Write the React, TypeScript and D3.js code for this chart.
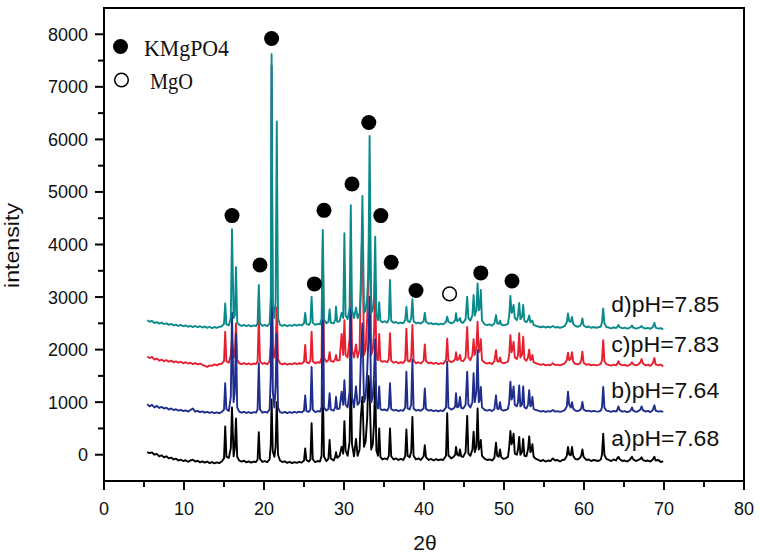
import React from "react";
import * as d3 from "d3";

type Pt = [number, number];

const seriesA: Pt[] = [[5.4,50],[5.7,30],[6.0,45],[6.3,0],[6.6,15],[6.9,-30],[7.2,-10],[7.5,-50],[7.8,-30],[8.1,-70],[8.4,-55],[8.7,-90],[9.0,-75],[9.3,-110],[9.6,-95],[9.9,-120],[10.2,-105],[10.5,-135],[10.8,-110],[11.1,-95],[11.4,-130],[11.7,-115],[12.0,-145],[12.3,-125],[12.6,-150],[12.9,-130],[13.2,-160],[13.5,-140],[13.8,-165],[14.1,-145],[14.4,-160],[14.7,-130],
[15.0,-70],[15.15,540],[15.3,-40],[15.6,-60],[15.85,120],[16.0,900],[16.2,-30],[16.35,120],[16.5,690],[16.65,-40],[16.9,-110],[17.2,-130],[17.5,-115],[17.8,-145],[18.1,-125],[18.4,-150],[18.7,-130],[19.0,-140],[19.2,-90],[19.35,430],[19.5,-80],[19.8,-135],[20.1,-120],[20.4,-140],[20.7,-90],[20.85,200],[20.95,1050],[21.1,60],[21.3,-40],[21.45,150],[21.6,1000],[21.75,0],[22.0,-110],[22.3,-140],[22.6,-125],[22.9,-155],[23.2,-135],[23.5,-160],[23.8,-140],[24.1,-155],[24.4,-135],[24.7,-150],[25.0,-110],[25.15,120],[25.3,-100],[25.6,-130],[25.8,-90],[25.95,600],[26.1,-90],[26.4,-140],[26.7,-120],[27.0,-130],[27.2,-20],[27.35,1300],[27.5,-40],[27.8,-120],[28.05,-80],[28.2,280],[28.35,-70],[28.7,-110],[28.9,-40],[29.0,50],[29.15,-60],[29.45,-20],[29.7,150],[29.9,20],[30.05,640],[30.2,80],[30.45,-20],[30.7,250],[30.85,1600],[31.0,200],[31.25,-30],[31.5,300],[31.7,-20],[31.95,100],[32.1,700],[32.3,1100],[32.5,150],[32.7,250],[32.9,700],[33.05,1500],[33.2,1200],[33.4,100],[33.6,200],[33.75,600],[33.9,1400],[34.05,80],[34.25,-20],[34.4,500],[34.55,-40],[34.8,-90],[35.1,-70],[35.4,-90],[35.6,-20],[35.75,500],[35.9,-30],[36.2,-90],[36.5,-70],[36.8,-100],[37.1,-80],[37.4,-100],[37.65,-30],[37.8,480],[37.95,-20],[38.2,-50],[38.4,50],[38.55,720],[38.7,-20],[39.0,-90],[39.3,-70],[39.6,-100],[39.95,-30],[40.1,180],[40.25,-50],[40.6,-100],[40.9,-80],[41.2,-110],[41.5,-85],[41.8,-105],[42.1,-90],[42.4,-100],[42.75,-20],[42.9,790],[43.05,-10],[43.4,-70],[43.7,-40],[43.9,0],[44.0,150],[44.15,0],[44.35,-20],[44.5,100],[44.65,-30],[44.9,-40],[45.2,50],[45.4,740],[45.55,20],[45.8,-20],[46.05,100],[46.2,440],[46.35,50],[46.55,150],[46.7,880],[46.85,100],[47.0,150],[47.1,280],[47.25,-20],[47.6,-80],[47.9,-100],[48.2,-90],[48.5,-110],[48.8,-60],[49.0,230],[49.15,-20],[49.35,-40],[49.5,100],[49.65,-40],[49.9,-80],[50.2,-70],[50.5,-40],[50.65,150],[50.8,450],[50.95,200],[51.05,250],[51.2,400],[51.35,20],[51.6,0],[51.75,100],[51.9,340],[52.05,0],[52.25,50],[52.4,300],[52.55,-20],[52.8,-30],[53.0,100],[53.15,350],[53.3,50],[53.45,80],[53.55,200],[53.7,-40],[54.0,-80],[54.3,-100],[54.6,-120],[54.9,-100],[55.2,-130],[55.5,-110],[55.8,-120],[56.1,-70],[56.4,-110],[56.7,-100],[57.0,-130],[57.3,-100],[57.6,-90],[57.85,-20],[58.0,150],[58.15,0],[58.35,-10],[58.5,150],[58.65,-20],[58.9,-80],[59.2,-90],[59.5,-60],[59.65,-20],[59.8,100],[59.95,-40],[60.3,-100],[60.6,-90],[60.9,-120],[61.2,-100],[61.5,-110],[61.8,-120],[62.1,-90],[62.25,0],[62.4,400],[62.55,0],[62.8,-80],[63.1,-100],[63.4,-120],[63.7,-90],[64.0,-110],[64.15,-70],[64.3,-40],[64.45,-80],[64.8,-120],[65.1,-110],[65.4,-130],[65.7,-100],[65.85,-70],[66.0,-40],[66.15,-90],[66.5,-120],[66.8,-100],[67.05,-80],[67.2,-50],[67.35,-100],[67.7,-120],[68.0,-110],[68.3,-130],[68.6,-90],[68.8,-40],[68.95,-110],[69.3,-100],[69.6,-140],[69.9,-120]];

const seriesB: Pt[] = [[5.4,960],[5.7,920],[6.0,950],[6.3,900],[6.6,930],[6.9,890],[7.2,910],[7.5,880],[7.8,895],[8.1,860],[8.4,880],[8.7,850],[9.0,865],[9.3,840],[9.6,855],[9.9,830],[10.2,845],[10.5,820],[10.8,850],[11.1,880],[11.4,820],[11.7,835],[12.0,810],[12.3,825],[12.6,800],[12.9,815],[13.2,795],[13.5,810],[13.8,790],[14.1,805],[14.4,790],[14.7,810],
[15.0,860],[15.15,1360],[15.3,870],[15.6,830],[15.85,1100],[16.0,2700],[16.2,1000],[16.35,1200],[16.5,2300],[16.65,900],[16.9,820],[17.2,800],[17.5,815],[17.8,795],[18.1,810],[18.4,790],[18.7,810],[19.0,800],[19.2,860],[19.35,1740],[19.5,860],[19.8,800],[20.1,815],[20.4,800],[20.7,860],[20.85,1500],[20.95,7400],[21.1,1200],[21.3,900],[21.45,1300],[21.6,2300],[21.75,900],[22.0,810],[22.3,795],[22.6,815],[22.9,790],[23.2,810],[23.5,795],[23.8,815],[24.1,800],[24.4,820],[24.7,805],[25.0,840],[25.15,1130],[25.3,830],[25.6,815],[25.8,860],[25.95,1670],[26.1,860],[26.4,810],[26.7,830],[27.0,820],[27.2,900],[27.35,3500],[27.5,900],[27.8,840],[28.05,870],[28.2,1170],[28.35,860],[28.7,840],[28.9,900],[29.0,1100],[29.15,870],[29.45,880],[29.7,1200],[29.9,950],[30.05,1420],[30.2,950],[30.45,900],[30.7,1200],[30.85,2800],[31.0,1100],[31.25,900],[31.5,1300],[31.7,950],[31.95,1000],[32.1,1800],[32.3,2500],[32.5,1000],[32.7,1100],[32.9,1600],[33.05,2200],[33.2,3000],[33.4,1000],[33.6,1100],[33.75,1500],[33.9,2200],[34.05,950],[34.25,880],[34.4,1300],[34.55,870],[34.8,850],[35.1,860],[35.4,840],[35.6,900],[35.75,1360],[35.9,870],[36.2,840],[36.5,855],[36.8,830],[37.1,850],[37.4,835],[37.65,900],[37.8,1580],[37.95,880],[38.2,860],[38.4,950],[38.55,1810],[38.7,880],[39.0,840],[39.3,855],[39.6,835],[39.95,880],[40.1,1260],[40.25,870],[40.6,840],[40.9,850],[41.2,830],[41.5,845],[41.8,825],[42.1,845],[42.4,830],[42.75,900],[42.9,1770],[43.05,900],[43.4,860],[43.7,880],[43.9,920],[44.0,1170],[44.15,900],[44.35,920],[44.5,1100],[44.65,890],[44.9,880],[45.2,950],[45.4,1580],[45.55,950],[45.8,900],[46.05,1000],[46.2,1550],[46.35,1000],[46.55,1200],[46.7,1990],[46.85,1000],[47.0,1050],[47.1,1290],[47.25,900],[47.6,850],[47.9,840],[48.2,855],[48.5,830],[48.8,870],[49.0,1130],[49.15,880],[49.35,870],[49.5,1000],[49.65,860],[49.9,840],[50.2,850],[50.5,870],[50.65,1000],[50.8,1390],[50.95,1050],[51.05,1100],[51.2,1300],[51.35,950],[51.6,920],[51.75,1000],[51.9,1320],[52.05,920],[52.25,950],[52.4,1300],[52.55,900],[52.8,880],[53.0,950],[53.15,1230],[53.3,920],[53.45,950],[53.55,1100],[53.7,870],[54.0,850],[54.3,840],[54.6,820],[54.9,835],[55.2,815],[55.5,830],[55.8,820],[56.1,850],[56.4,820],[56.7,830],[57.0,815],[57.3,830],[57.6,850],[57.85,920],[58.0,1200],[58.15,950],[58.35,900],[58.5,1000],[58.65,880],[58.9,840],[59.2,830],[59.5,850],[59.65,880],[59.8,1005],[59.95,860],[60.3,830],[60.6,840],[60.9,820],[61.2,835],[61.5,825],[61.8,820],[62.1,840],[62.25,900],[62.4,1290],[62.55,900],[62.8,840],[63.1,830],[63.4,815],[63.7,835],[64.0,820],[64.15,850],[64.3,920],[64.45,850],[64.8,820],[65.1,830],[65.4,810],[65.7,825],[65.85,850],[66.0,900],[66.15,840],[66.5,815],[66.8,830],[67.05,860],[67.2,920],[67.35,850],[67.7,820],[68.0,835],[68.3,810],[68.6,850],[68.8,940],[68.95,840],[69.3,820],[69.6,830],[69.9,815]];

const seriesC: Pt[] = [[5.4,1870],[5.7,1840],[6.0,1860],[6.3,1810],[6.6,1830],[6.9,1790],[7.2,1810],[7.5,1780],[7.8,1800],[8.1,1770],[8.4,1790],[8.7,1760],[9.0,1775],[9.3,1750],[9.6,1770],[9.9,1740],[10.2,1760],[10.5,1735],[10.8,1750],[11.1,1725],[11.4,1745],[11.7,1720],[12.0,1735],[12.3,1710],[12.6,1690],[12.9,1670],[13.2,1700],[13.5,1690],[13.8,1720],[14.1,1700],[14.4,1725],[14.7,1730],
[15.0,1780],[15.15,2340],[15.3,1780],[15.6,1750],[15.85,1900],[16.0,2200],[16.2,1850],[16.35,1900],[16.5,2500],[16.65,1800],[16.9,1740],[17.2,1725],[17.5,1745],[17.8,1720],[18.1,1740],[18.4,1715],[18.7,1735],[19.0,1725],[19.2,1780],[19.35,2600],[19.5,1780],[19.8,1730],[20.1,1745],[20.4,1720],[20.7,1780],[20.85,2100],[20.95,3000],[21.1,2000],[21.3,1850],[21.45,2100],[21.6,2800],[21.75,1820],[22.0,1740],[22.3,1720],[22.6,1740],[22.9,1715],[23.2,1735],[23.5,1720],[23.8,1745],[24.1,1725],[24.4,1740],[24.7,1730],[25.0,1770],[25.15,2090],[25.3,1760],[25.6,1740],[25.8,1790],[25.95,2340],[26.1,1780],[26.4,1740],[26.7,1760],[27.0,1750],[27.2,1850],[27.35,4050],[27.5,1850],[27.8,1770],[28.05,1800],[28.2,1950],[28.35,1780],[28.7,1770],[28.9,1820],[29.0,1900],[29.15,1790],[29.45,1800],[29.7,2300],[29.9,1900],[30.05,2560],[30.2,1900],[30.45,1850],[30.7,2200],[30.85,3500],[31.0,2000],[31.25,1850],[31.5,2100],[31.7,1850],[31.95,2000],[32.1,3300],[32.3,4370],[32.5,1900],[32.7,2000],[32.9,2600],[33.05,3400],[33.2,4790],[33.4,1900],[33.6,2000],[33.75,2300],[33.9,3200],[34.05,1850],[34.25,1800],[34.4,2300],[34.55,1790],[34.8,1770],[35.1,1780],[35.4,1760],[35.6,1820],[35.75,2310],[35.9,1790],[36.2,1750],[36.5,1770],[36.8,1740],[37.1,1760],[37.4,1745],[37.65,1800],[37.8,2400],[37.95,1790],[38.2,1770],[38.4,1850],[38.55,2470],[38.7,1790],[39.0,1740],[39.3,1760],[39.6,1735],[39.95,1790],[40.1,2100],[40.25,1780],[40.6,1740],[40.9,1755],[41.2,1730],[41.5,1750],[41.8,1725],[42.1,1745],[42.4,1730],[42.75,1800],[42.9,2210],[43.05,1800],[43.4,1760],[43.7,1780],[43.9,1820],[44.0,1950],[44.15,1800],[44.35,1820],[44.5,1900],[44.65,1790],[44.9,1780],[45.2,1850],[45.4,2430],[45.55,1850],[45.8,1800],[46.05,1900],[46.2,2200],[46.35,1900],[46.55,2050],[46.7,2530],[46.85,1950],[47.0,2000],[47.1,2200],[47.25,1800],[47.6,1750],[47.9,1735],[48.2,1750],[48.5,1725],[48.8,1780],[49.0,1990],[49.15,1780],[49.35,1770],[49.5,1850],[49.65,1760],[49.9,1740],[50.2,1750],[50.5,1770],[50.65,1900],[50.8,2276],[50.95,1950],[51.05,2000],[51.2,2150],[51.35,1850],[51.6,1820],[51.75,1900],[51.9,2310],[52.05,1850],[52.25,1900],[52.4,2245],[52.55,1820],[52.8,1790],[53.0,1850],[53.15,2000],[53.3,1800],[53.45,1820],[53.55,1900],[53.7,1760],[54.0,1740],[54.3,1725],[54.6,1710],[54.9,1725],[55.2,1700],[55.5,1715],[55.8,1700],[56.1,1740],[56.4,1705],[56.7,1715],[57.0,1700],[57.3,1720],[57.6,1740],[57.85,1800],[58.0,1940],[58.15,1800],[58.35,1820],[58.5,1950],[58.65,1770],[58.9,1730],[59.2,1720],[59.5,1740],[59.65,1790],[59.8,1960],[59.95,1750],[60.3,1710],[60.6,1725],[60.9,1700],[61.2,1715],[61.5,1700],[61.8,1710],[62.1,1730],[62.25,1800],[62.4,2180],[62.55,1780],[62.8,1720],[63.1,1710],[63.4,1695],[63.7,1715],[64.0,1700],[64.15,1730],[64.3,1780],[64.45,1730],[64.8,1700],[65.1,1710],[65.4,1690],[65.7,1705],[65.85,1730],[66.0,1760],[66.15,1720],[66.5,1700],[66.8,1720],[67.05,1760],[67.2,1820],[67.35,1740],[67.7,1700],[68.0,1715],[68.3,1690],[68.6,1740],[68.8,1840],[68.95,1720],[69.3,1700],[69.6,1715],[69.9,1680]];

const seriesD: Pt[] = [[5.4,2560],[5.7,2530],[6.0,2545],[6.3,2505],[6.6,2525],[6.9,2495],[7.2,2515],[7.5,2485],[7.8,2500],[8.1,2470],[8.4,2490],[8.7,2460],[9.0,2475],[9.3,2450],[9.6,2470],[9.9,2445],[10.2,2460],[10.5,2435],[10.8,2450],[11.1,2430],[11.4,2450],[11.7,2425],[12.0,2445],[12.3,2420],[12.6,2440],[12.9,2415],[13.2,2435],[13.5,2410],[13.8,2430],[14.1,2415],[14.4,2435],[14.7,2440],
[15.0,2490],[15.15,2880],[15.3,2480],[15.6,2460],[15.85,2600],[16.0,4290],[16.2,2600],[16.35,2650],[16.5,3570],[16.65,2520],[16.9,2470],[17.2,2450],[17.5,2470],[17.8,2445],[18.1,2465],[18.4,2440],[18.7,2460],[19.0,2450],[19.2,2500],[19.35,3230],[19.5,2500],[19.8,2450],[20.1,2470],[20.4,2445],[20.7,2500],[20.85,3000],[20.95,7620],[21.1,2900],[21.3,2600],[21.45,2900],[21.6,6340],[21.75,2600],[22.0,2470],[22.3,2450],[22.6,2470],[22.9,2445],[23.2,2465],[23.5,2450],[23.8,2475],[24.1,2455],[24.4,2475],[24.7,2460],[25.0,2500],[25.15,2700],[25.3,2490],[25.6,2470],[25.8,2520],[25.95,3005],[26.1,2510],[26.4,2470],[26.7,2490],[27.0,2480],[27.2,2580],[27.35,4276],[27.5,2580],[27.8,2500],[28.05,2530],[28.2,2765],[28.35,2510],[28.7,2500],[28.9,2560],[29.0,2815],[29.15,2530],[29.45,2540],[29.7,2700],[29.9,2600],[30.05,4213],[30.2,2650],[30.45,2580],[30.7,2800],[30.85,4750],[31.0,2750],[31.25,2600],[31.5,2800],[31.7,2600],[31.95,2700],[32.1,3100],[32.3,4924],[32.5,2700],[32.7,2750],[32.9,3000],[33.05,3500],[33.2,6067],[33.4,2700],[33.6,2750],[33.75,3000],[33.9,4150],[34.05,2650],[34.25,2560],[34.4,2900],[34.55,2550],[34.8,2520],[35.1,2540],[35.4,2515],[35.6,2580],[35.75,3324],[35.9,2550],[36.2,2510],[36.5,2525],[36.8,2500],[37.1,2515],[37.4,2500],[37.65,2560],[37.8,2815],[37.95,2550],[38.2,2520],[38.4,2600],[38.55,2960],[38.7,2540],[39.0,2500],[39.3,2515],[39.6,2495],[39.95,2540],[40.1,2700],[40.25,2530],[40.6,2490],[40.9,2505],[41.2,2480],[41.5,2500],[41.8,2475],[42.1,2495],[42.4,2480],[42.75,2530],[42.9,2625],[43.05,2530],[43.4,2500],[43.7,2520],[43.9,2560],[44.0,2695],[44.15,2540],[44.35,2560],[44.5,2600],[44.65,2520],[44.9,2510],[45.2,2580],[45.4,3005],[45.55,2600],[45.8,2550],[46.05,2650],[46.2,3040],[46.35,2650],[46.55,2750],[46.7,3260],[46.85,2750],[47.0,2800],[47.1,3133],[47.25,2550],[47.6,2480],[47.9,2465],[48.2,2480],[48.5,2455],[48.8,2500],[49.0,2657],[49.15,2500],[49.35,2490],[49.5,2550],[49.65,2480],[49.9,2460],[50.2,2470],[50.5,2490],[50.65,2650],[50.8,3020],[50.95,2700],[51.05,2720],[51.2,2850],[51.35,2600],[51.6,2560],[51.75,2650],[51.9,2886],[52.05,2580],[52.25,2620],[52.4,2850],[52.55,2550],[52.8,2520],[53.0,2570],[53.15,2650],[53.3,2520],[53.45,2540],[53.55,2550],[53.7,2470],[54.0,2450],[54.3,2440],[54.6,2425],[54.9,2440],[55.2,2420],[55.5,2435],[55.8,2420],[56.1,2450],[56.4,2420],[56.7,2430],[57.0,2415],[57.3,2430],[57.6,2450],[57.85,2520],[58.0,2690],[58.15,2540],[58.35,2530],[58.5,2620],[58.65,2490],[58.9,2450],[59.2,2435],[59.5,2450],[59.65,2490],[59.8,2595],[59.95,2460],[60.3,2425],[60.6,2440],[60.9,2415],[61.2,2430],[61.5,2415],[61.8,2425],[62.1,2440],[62.25,2520],[62.4,2785],[62.55,2500],[62.8,2430],[63.1,2420],[63.4,2405],[63.7,2425],[64.0,2410],[64.15,2430],[64.3,2470],[64.45,2430],[64.8,2405],[65.1,2420],[65.4,2400],[65.7,2415],[65.85,2430],[66.0,2460],[66.15,2420],[66.5,2400],[66.8,2415],[67.05,2430],[67.2,2450],[67.35,2420],[67.7,2400],[68.0,2415],[68.3,2395],[68.6,2430],[68.8,2510],[68.95,2420],[69.3,2400],[69.6,2410],[69.9,2385]];

const seriesLabels = ["a)pH=7.68", "b)pH=7.64", "c)pH=7.83", "d)pH=7.85"];
const seriesColors = ["#000000", "#1f2d8c", "#e6202f", "#0b8a8c"];
const labelBaseValues = [170, 1080, 1955, 2715];

// KMgPO4 peak markers [2θ, intensity], MgO marker
const kmgpo4Marks: Pt[] = [[16.0,4550],[19.5,3610],[20.95,7920],[26.3,3250],[27.5,4650],[31.0,5150],[33.1,6320],[34.6,4550],[35.9,3660],[39.0,3125],[47.1,3460],[51.0,3305]];
const mgoMarks: Pt[] = [[43.2,3060]];

const xTicks = [0, 10, 20, 30, 40, 50, 60, 70, 80];
const yTicks = [0, 1000, 2000, 3000, 4000, 5000, 6000, 7000, 8000];

export default function App() {
  const W = 760, H = 556;
  const left = 104, right = 744, top = 8, bottom = 481;
  const x = d3.scaleLinear().domain([0, 80]).range([left, right]);
  const y = d3.scaleLinear().domain([-500, 8500]).range([bottom, top]);
  const line = d3.line<Pt>().x(d => x(d[0])).y(d => y(d[1]));
  const all = [seriesA, seriesB, seriesC, seriesD];
  const drawOrder = [0, 2, 1, 3];
  const minorX = d3.range(5, 80, 10);
  const minorY = d3.range(500, 8500, 1000);
  const sans = "'Liberation Sans', Arial, sans-serif";
  const serif = "'Liberation Serif', 'Times New Roman', serif";
  return (
    <svg width={W} height={H} style={{ position: "absolute", left: 0, top: 0, background: "#fff" }}>
      <rect x={0} y={0} width={W} height={H} fill="#fff" />
      {drawOrder.map(i => (
        <path key={i} d={line(all[i]) || ""} fill="none" stroke={seriesColors[i]} strokeWidth={1.9} strokeLinejoin="round" />
      ))}
      {seriesLabels.map((t, i) => (
        <text key={t} x={x(63.4)} y={y(labelBaseValues[i])} fontFamily={sans} fontSize={22} textLength={108} lengthAdjust="spacingAndGlyphs" fill="#111">{t}</text>
      ))}
      {kmgpo4Marks.map((m, i) => (
        <circle key={i} cx={x(m[0])} cy={y(m[1])} r={7.5} fill="#000" />
      ))}
      {mgoMarks.map((m, i) => (
        <circle key={i} cx={x(m[0])} cy={y(m[1])} r={6.8} fill="#fff" stroke="#000" strokeWidth={1.5} />
      ))}
      <circle cx={120.5} cy={46.5} r={7.5} fill="#000" />
      <text x={144} y={55.5} fontFamily={serif} fontSize={23} textLength={85} lengthAdjust="spacingAndGlyphs" fill="#111">KMgPO4</text>
      <circle cx={121.5} cy={80} r={6.8} fill="#fff" stroke="#000" strokeWidth={1.5} />
      <text x={150} y={88.5} fontFamily={serif} fontSize={23} textLength={43} lengthAdjust="spacingAndGlyphs" fill="#111">MgO</text>
      <rect x={left} y={top} width={right - left} height={bottom - top} fill="none" stroke="#000" strokeWidth={2} />
      {xTicks.map(t => (
        <g key={"x" + t}>
          <line x1={x(t)} x2={x(t)} y1={bottom} y2={bottom + 9} stroke="#000" strokeWidth={2} />
          <text x={x(t)} y={515} textAnchor="middle" fontFamily={sans} fontSize={18} fill="#111">{t}</text>
        </g>
      ))}
      {minorX.map(t => (
        <line key={"mx" + t} x1={x(t)} x2={x(t)} y1={bottom} y2={bottom + 6} stroke="#000" strokeWidth={2} />
      ))}
      {yTicks.map(t => (
        <g key={"y" + t}>
          <line x1={left - 9} x2={left} y1={y(t)} y2={y(t)} stroke="#000" strokeWidth={2} />
          <text x={88} y={y(t) + 6.5} textAnchor="end" fontFamily={sans} fontSize={18} fill="#111">{t}</text>
        </g>
      ))}
      {minorY.map(t => (
        <line key={"my" + t} x1={left - 6} x2={left} y1={y(t)} y2={y(t)} stroke="#000" strokeWidth={2} />
      ))}
      <text x={425} y={550} textAnchor="middle" fontFamily={sans} fontSize={21} fill="#111">2θ</text>
      <text transform="translate(19,245.5) rotate(-90)" textAnchor="middle" fontFamily={sans} fontSize={20} textLength={85} lengthAdjust="spacingAndGlyphs" fill="#111">intensity</text>
    </svg>
  );
}
